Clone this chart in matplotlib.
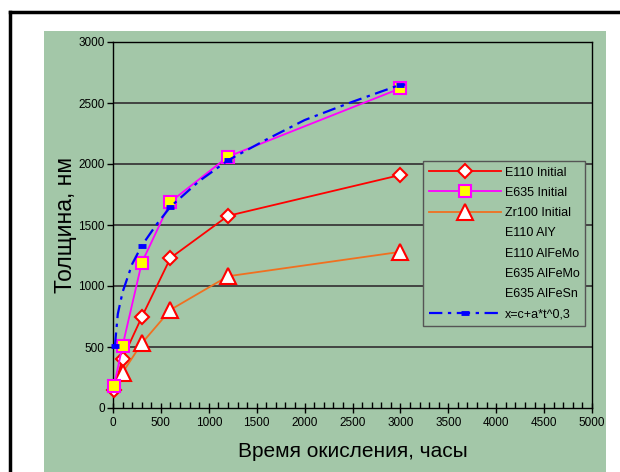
import matplotlib
matplotlib.use("Agg")
import matplotlib.pyplot as plt
from matplotlib.lines import Line2D
from matplotlib.patches import Rectangle

plt.rcParams['font.family'] = ['Liberation Sans', 'DejaVu Sans']

# Data
t_e110 = [10, 100, 300, 600, 1200, 3000]
v_e110 = [150, 405, 745, 1230, 1575, 1910]
t_e635 = [10, 100, 300, 600, 1200, 3000]
v_e635 = [180, 510, 1190, 1690, 2060, 2620]
t_zr = [100, 300, 600, 1200, 3000]
v_zr = [290, 530, 805, 1080, 1280]
t_fit = [20, 50, 100, 200, 300, 450, 600, 900, 1200, 1600, 2000, 2500, 3000, 3050]
v_fit = [510, 770, 950, 1180, 1330, 1500, 1650, 1860, 2030, 2200, 2360, 2510, 2650, 2650]
fit_marks = [0, 4, 6, 8, 12]

labels = ["E110 Initial", "E635 Initial", "Zr100 Initial", "E110 AlY",
          "E110 AlFeMo", "E635 AlFeMo", "E635 AlFeSn", "x=c+a*t^0,3"]
xticks = [0, 500, 1000, 1500, 2000, 2500, 3000, 3500, 4000, 4500, 5000]
yticks = [0, 500, 1000, 1500, 2000, 2500, 3000]

W, H = 620, 472
fig = plt.figure(figsize=(W / 100, H / 100), dpi=100)
fig.patch.set_facecolor('white')

green = '#a3c7a8'
# chart area background
fig.add_artist(Rectangle((44 / W, 0), (606 - 44) / W, (H - 31) / H,
                         transform=fig.transFigure, facecolor=green,
                         edgecolor='none', zorder=-5))
# outer black frame
fig.add_artist(Line2D([10 / W, 10 / W], [0, 1 - 12 / H], color='black', lw=2.5,
                      transform=fig.transFigure, zorder=-4))
fig.add_artist(Line2D([10 / W, 1], [1 - 12 / H, 1 - 12 / H], color='black', lw=2.5,
                      transform=fig.transFigure, zorder=-4))

ax = fig.add_axes([113 / W, (H - 408) / H, (592 - 113) / W, (408 - 42) / H])
ax.set_zorder(2)
ax.set_facecolor(green)

ax.set_xlim(0, 5000)
ax.set_ylim(0, 3000)
ax.set_xticks(xticks)
ax.set_yticks(yticks)
ax.set_xticks(range(0, 5001, 100), minor=True)
ax.tick_params(axis='x', which='major', direction='inout', length=7, width=1,
               labelsize=8.5, pad=3)
ax.tick_params(axis='x', which='minor', direction='in', length=4, width=1)
ax.tick_params(axis='y', which='major', direction='out', length=4, width=1,
               labelsize=8.5, pad=2)
for s in ax.spines.values():
    s.set_color('black')
    s.set_linewidth(1)

for y in yticks[1:-1]:
    ax.axhline(y, color='#3a3a3a', lw=1.3, zorder=1)

l1, = ax.plot(t_e110, v_e110, color='#ff0000', lw=1.3, marker='D', ms=7,
              mfc='white', mec='#ff0000', mew=1.5, zorder=4, clip_on=False)
l2, = ax.plot(t_e635, v_e635, color='#ff00ff', lw=1.3, marker='s', ms=8.5,
              mfc='#ffff00', mec='#ff00ff', mew=1.5, zorder=5, clip_on=False)
l3, = ax.plot(t_zr, v_zr, color='#f07020', lw=1.3, marker='^', ms=12,
              mfc='white', mec='#ff0000', mew=1.5, zorder=4, clip_on=False)
l4, = ax.plot(t_fit, v_fit, color='#0000ff', lw=1.6,
              linestyle=(0, (6, 2.5, 1.5, 2.5)), marker='_', ms=6, mew=3.5,
              markevery=fit_marks, zorder=6, clip_on=False)

empty = [Line2D([], [], linestyle='none') for _ in range(4)]
handles = [l1, l2, l3] + empty + [l4]
leg = ax.legend(handles, labels, loc='upper left', bbox_to_anchor=(0.647, 0.675),
                borderaxespad=0, fontsize=9, numpoints=1, handlelength=5.8,
                handletextpad=0.3, labelspacing=0.66, frameon=True,
                fancybox=False, borderpad=0.45)
leg.get_frame().set_facecolor(green)
leg.get_frame().set_edgecolor('#555555')
leg.get_frame().set_linewidth(1)
leg.get_frame().set_alpha(1)

ax.set_xlabel("Время окисления, часы", fontsize=15, labelpad=9)
ax.set_ylabel("Толщина, нм", fontsize=16.5, labelpad=1)

fig.savefig("out.png", dpi=100)
